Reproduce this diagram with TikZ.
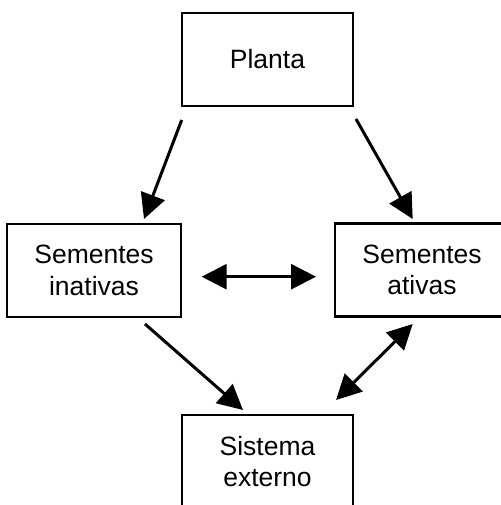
\documentclass[tikz,border=0pt]{standalone}
\usepackage{fontspec}
\setmainfont{Liberation Sans}
\usetikzlibrary{arrows.meta}
\begin{document}
\begin{tikzpicture}[x=1pt,y=-1pt,
  box/.style={draw=black,line width=2.5pt,rectangle,align=center,inner sep=0pt,
    minimum width=171pt,minimum height=93pt,font=\fontsize{26.5}{31.7}\selectfont},
  conn/.style={line width=3pt,-{Triangle[length=25pt,width=25pt]}},
  dconn/.style={line width=3pt,{Triangle[length=25pt,width=25pt]}-{Triangle[length=25pt,width=25pt]}}]
\useasboundingbox (0,0) rectangle (500,505);
\node[box] (planta) at (267.5,59.5) {Planta};
\node[box,minimum width=174pt] (inativas) at (94,270.5) {Sementes\\inativas};
\node[box,minimum width=174pt] (ativas) at (422,270) {Sementes\\ativas};
\node[box] (sistema) at (267.5,461.5) {Sistema\\externo};
\coordinate (a1s) at (181.7,120);
\coordinate (a1e) at (144,219);
\coordinate (a2s) at (356,119);
\coordinate (a2e) at (412.7,219);
\coordinate (a3s) at (201.7,276.7);
\coordinate (a3e) at (316,276.7);
\coordinate (a4s) at (145,324);
\coordinate (a4e) at (243,410);
\coordinate (a5s) at (412.7,324);
\coordinate (a5e) at (336,400);
\draw[conn] (a1s) -- (a1e);
\draw[conn] (a2s) -- (a2e);
\draw[dconn] (a3s) -- (a3e);
\draw[conn] (a4s) -- (a4e);
\draw[dconn] (a5s) -- (a5e);
\end{tikzpicture}
\end{document}
